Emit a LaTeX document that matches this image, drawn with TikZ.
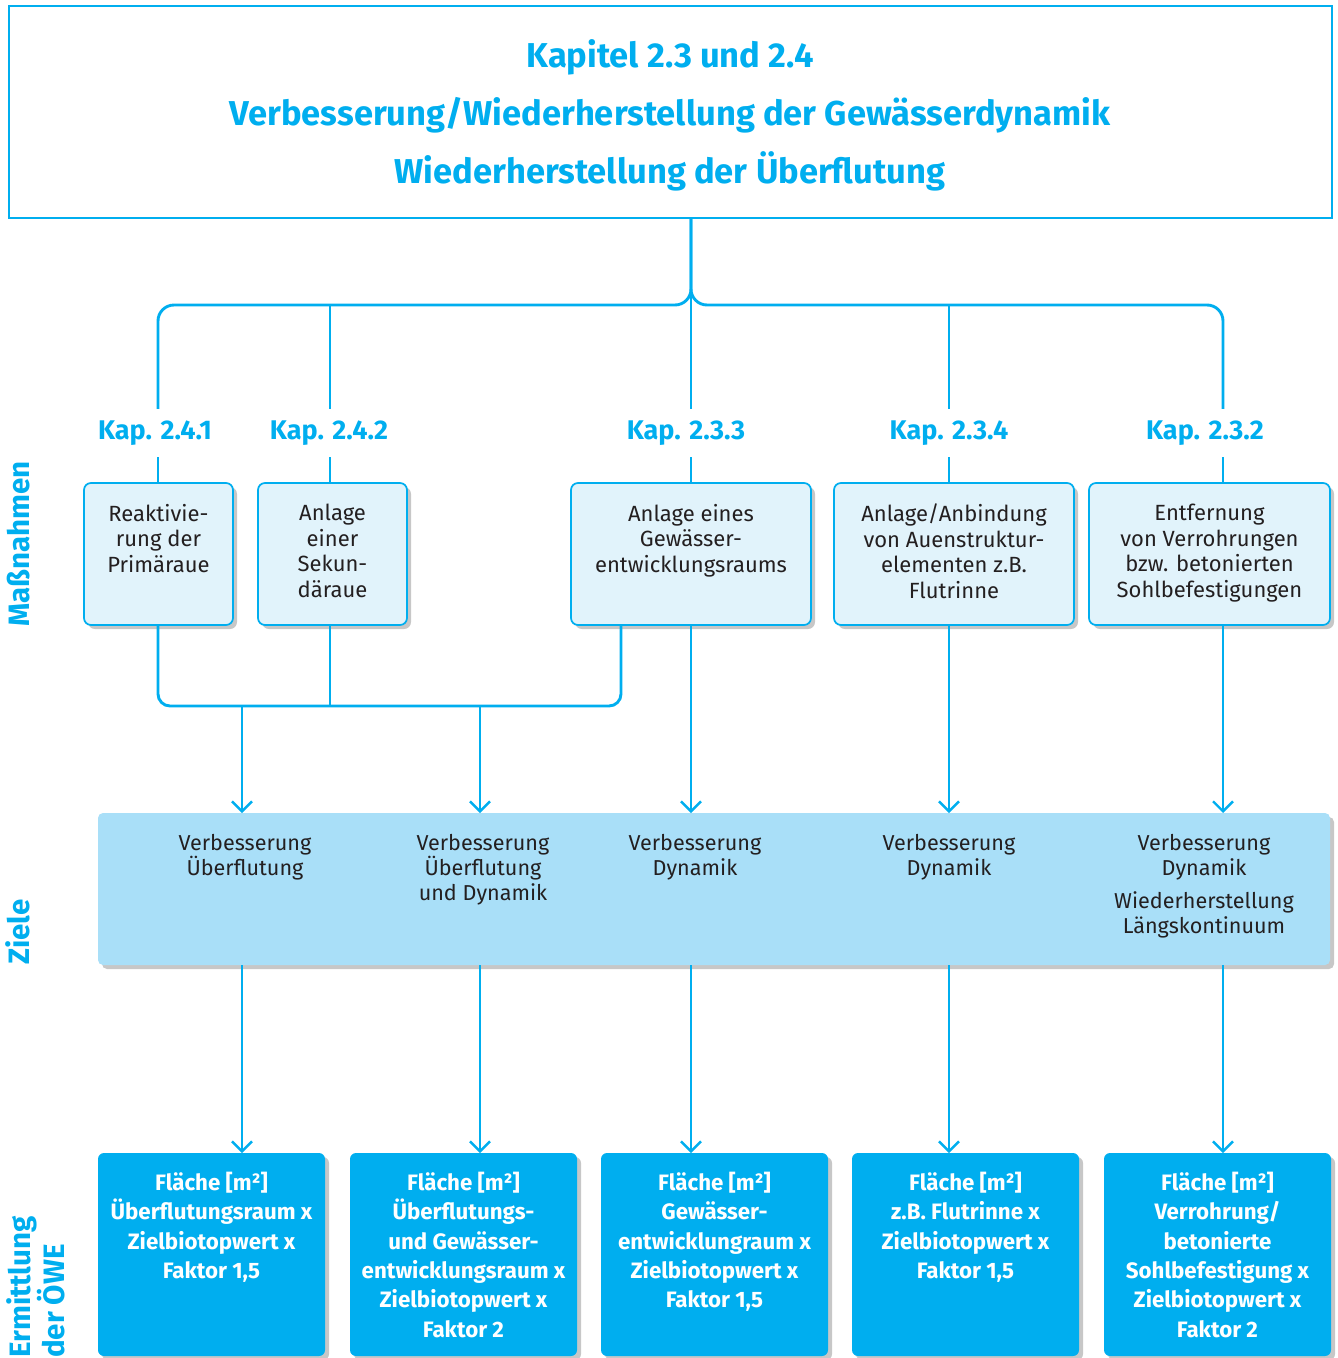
\documentclass[tikz,border=0pt]{standalone}
\usepackage{fontspec}
\setmainfont{Fira Sans}
\usetikzlibrary{arrows.meta,shadows,calc}
\definecolor{cy}{HTML}{00AEEF}
\definecolor{lightbox}{HTML}{E1F3FB}
\definecolor{band}{HTML}{A9DFF8}
\definecolor{txt}{HTML}{231F20}
\begin{document}
\begin{tikzpicture}[x=1pt,y=-1pt,
  conn/.style={draw=cy, line width=2.9pt},
  arr/.style={conn, -{Straight Barb[length=10pt,width=20pt,line width=2.4pt]}},
  shad/.style={drop shadow={shadow xshift=4pt,shadow yshift=-4pt,opacity=0.22,fill=black}},
  mbox/.style={draw=cy, line width=1.7pt, fill=lightbox, rounded corners=7pt, shad,
    anchor=north west, inner sep=0pt, outer sep=0pt, minimum height=142pt},
  obox/.style={fill=cy, rounded corners=6pt, shad,
    anchor=north west, inner sep=0pt, outer sep=0pt, minimum width=227pt, minimum height=203pt},
  btxt/.style={anchor=north, align=center, inner sep=0pt, text=txt,
    font=\fontsize{22}{25.5}\selectfont},
  ztxt/.style={anchor=north, align=center, inner sep=0pt, text=txt,
    font=\fontsize{21.6}{25}\selectfont},
  otxt/.style={anchor=north, align=center, inner sep=0pt, text=white,
    font=\bfseries\fontsize{22.3}{29.3}\selectfont},
  kap/.style={text=cy, font=\bfseries\fontsize{27}{30}\selectfont, inner sep=0pt,
    minimum height=48pt},
  side/.style={text=cy, font=\bfseries\fontsize{29.5}{31}\selectfont, rotate=90, inner sep=0pt}
]
\useasboundingbox (0,0) rectangle (1338,1358);

% title frame
\node[draw=cy, line width=2.2pt, anchor=north west, inner sep=0pt, outer sep=0pt,
  minimum width=1323pt, minimum height=212pt] (title) at (9,6) {};
\node[text=cy, align=center, inner sep=0pt,
  font=\bfseries\fontsize{34.5}{58}\selectfont] (tt) at (670,115)
  {Kapitel 2.3 und 2.4\\Verbesserung/Wiederherstellung der Gewässerdynamik\\Wiederherstellung der Überflutung};

% column coordinates
\coordinate (j1) at (158,0);
\coordinate (j2) at (330,0);
\coordinate (j3) at (691,0);
\coordinate (j4) at (949,0);
\coordinate (j5) at (1223,0);
\coordinate (ht) at (0,305);
\coordinate (hb) at (0,706);
\coordinate (xr) at (621,0);
\coordinate (xa) at (242,0);
\coordinate (xb) at (480,0);

% Kap labels
\node[kap] (k1) at (155,433) {Kap. 2.4.1};
\node[kap] (k2) at (329,433) {Kap. 2.4.2};
\node[kap] (k3) at (686,433) {Kap. 2.3.3};
\node[kap] (k4) at (949,433) {Kap. 2.3.4};
\node[kap] (k5) at (1205,433) {Kap. 2.3.2};

% Massnahmen boxes
\node[mbox, minimum width=149pt] (a) at (84,483) {};
\node[mbox, minimum width=149pt] (b) at (258,483) {};
\node[mbox, minimum width=240pt] (c) at (571,483) {};
\node[mbox, minimum width=240pt] (d) at (834,483) {};
\node[mbox, minimum width=241pt] (e) at (1089,483) {};
\node[btxt] (at) at ($(a.north)+(0,21)$) {Reaktivie-\\rung der\\Primäraue};
\node[btxt] (bt) at ($(b.north)+(0,21)$) {Anlage\\einer\\Sekun-\\däraue};
\node[btxt] (ct) at ($(c.north)+(0,21)$) {Anlage eines\\Gewässer-\\entwicklungsraums};
\node[btxt] (dt) at ($(d.north)+(0,21)$) {Anlage/Anbindung\\von Auenstruktur-\\elementen z.B.\\Flutrinne};
\node[btxt] (et) at ($(e.north)+(0,21)$) {Entfernung\\von Verrohrungen\\bzw. betonierten\\Sohlbefestigungen};

% Ziele band
\node[fill=band, rounded corners=5pt, shad, anchor=north west, inner sep=0pt, outer sep=0pt,
  minimum width=1232pt, minimum height=152pt] (z) at (98,813) {};
\node[ztxt] (z1) at (245,834) {Verbesserung\\Überflutung};
\node[ztxt] (z2) at (483,834) {Verbesserung\\Überflutung\\und Dynamik};
\node[ztxt] (z3) at (695,834) {Verbesserung\\Dynamik};
\node[ztxt] (z4) at (949,834) {Verbesserung\\Dynamik};
\node[ztxt] (z5) at (1204,834) {Verbesserung\\Dynamik\\[8pt]Wiederherstellung\\Längskontinuum};

% OEWE boxes
\node[obox] (o1) at (98,1153) {};
\node[obox] (o2) at (350,1153) {};
\node[obox] (o3) at (601,1153) {};
\node[obox] (o4) at (852,1153) {};
\node[obox] (o5) at (1104,1153) {};
\node[otxt] (o1t) at ($(o1.north)+(0,19)$) {Fläche [m²]\\Überflutungsraum x\\Zielbiotopwert x\\Faktor 1,5};
\node[otxt] (o2t) at ($(o2.north)+(0,19)$) {Fläche [m²]\\Überflutungs-\\und Gewässer-\\entwicklungsraum x\\Zielbiotopwert x\\Faktor 2};
\node[otxt] (o3t) at ($(o3.north)+(0,19)$) {Fläche [m²]\\Gewässer-\\entwicklungraum x\\Zielbiotopwert x\\Faktor 1,5};
\node[otxt] (o4t) at ($(o4.north)+(0,19)$) {Fläche [m²]\\z.B. Flutrinne x\\Zielbiotopwert x\\Faktor 1,5};
\node[otxt] (o5t) at ($(o5.north)+(0,19)$) {Fläche [m²]\\Verrohrung/\\betonierte\\Sohlbefestigung x\\Zielbiotopwert x\\Faktor 2};

% side labels
\node[side, anchor=base] (s1) at (29,544) {Maßnahmen};
\node[side, anchor=base] (s2) at (29,932) {Ziele};
\node[side, anchor=north west, align=left] (s3) at (6,1358) {Ermittlung\\der ÖWE};

% top connectors
\draw[conn, rounded corners=16pt] (j1 |- k1.north) -- (j1 |- ht) -- (j3 |- ht) -- (title.south -| j3);
\draw[conn, rounded corners=16pt] (j5 |- k5.north) -- (j5 |- ht) -- (j3 |- ht) -- (title.south -| j3);
\draw[conn] (title.south -| j3) -- (j3 |- k3.north);
\draw[conn] (j2 |- ht) -- (j2 |- k2.north);
\draw[conn] (j4 |- ht) -- (j4 |- k4.north);
% Kap to boxes
\draw[conn] (j1 |- k1.south) -- (j1 |- a.north);
\draw[conn] (j2 |- k2.south) -- (j2 |- b.north);
\draw[conn] (j3 |- k3.south) -- (j3 |- c.north);
\draw[conn] (j4 |- k4.south) -- (j4 |- d.north);
\draw[conn] (j5 |- k5.south) -- (j5 |- e.north);
% boxes to Ziele
\draw[conn, rounded corners=12pt] (a.south -| j1) -- (j1 |- hb) -- (xr |- hb) -- (c.south -| xr);
\draw[conn] (b.south -| j2) -- (j2 |- hb);
\draw[arr] (xa |- hb) -- (xa |- z.north);
\draw[arr] (xb |- hb) -- (xb |- z.north);
\draw[arr] (c.south -| j3) -- (j3 |- z.north);
\draw[arr] (d.south -| j4) -- (j4 |- z.north);
\draw[arr] (e.south -| j5) -- (j5 |- z.north);
% Ziele to OEWE
\draw[arr] (z.south -| xa) -- (xa |- o1.north);
\draw[arr] (z.south -| xb) -- (xb |- o2.north);
\draw[arr] (z.south -| j3) -- (j3 |- o3.north);
\draw[arr] (z.south -| j4) -- (j4 |- o4.north);
\draw[arr] (z.south -| j5) -- (j5 |- o5.north);
\end{tikzpicture}
\end{document}
